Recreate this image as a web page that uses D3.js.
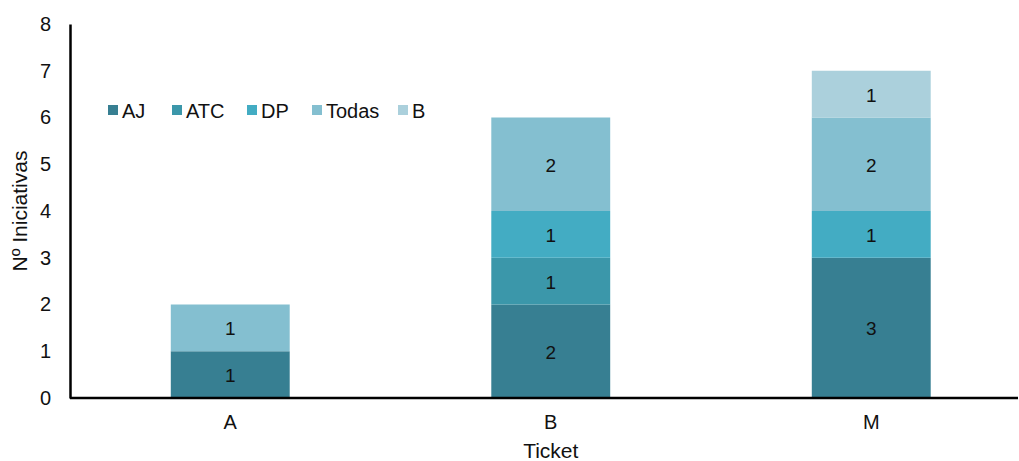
<!DOCTYPE html>
<html>
<head>
<meta charset="utf-8">
<script src="https://cdn.jsdelivr.net/npm/d3@7"></script>
<style>
  body { margin: 0; background: #fff; }
  text { font-family: "Liberation Sans", Arial, sans-serif; }
</style>
</head>
<body>
<div id="chart"></div>
<script>
const tickets = ["A", "B", "M"];
const seriesNames = ["AJ", "ATC", "DP", "Todas", "B"];
const seriesColors = ["#377f92", "#3b97aa", "#43acc3", "#84bfd0", "#abd0dc"];
const valuesAJ = [1, 2, 3];
const valuesATC = [0, 1, 0];
const valuesDP = [0, 1, 1];
const valuesTodas = [1, 2, 2];
const valuesB = [0, 0, 1];
const yTicks = [0, 1, 2, 3, 4, 5, 6, 7, 8];

const width = 1019, height = 461;
const margin = { top: 24, right: 0, bottom: 63, left: 70 };

const rows = tickets.map((t, i) => ({
  ticket: t,
  AJ: valuesAJ[i], ATC: valuesATC[i], DP: valuesDP[i], Todas: valuesTodas[i], B: valuesB[i]
}));

const svg = d3.select('#chart').append('svg')
  .attr('width', width)
  .attr('height', height);

const x = d3.scaleBand()
  .domain(tickets)
  .range([margin.left, margin.left + 3 * 320.5])
  .paddingInner(0.629)
  .paddingOuter(0.3145);

const y = d3.scaleLinear()
  .domain([0, 8])
  .range([height - margin.bottom, margin.top]);

const color = d3.scaleOrdinal().domain(seriesNames).range(seriesColors);

const stacked = d3.stack().keys(seriesNames)(rows);

const layers = svg.selectAll('.layer')
  .data(stacked)
  .enter().append('g')
  .attr('class', 'layer')
  .attr('fill', d => color(d.key));

layers.selectAll('rect')
  .data(d => d.filter(s => s[1] - s[0] > 0))
  .enter().append('rect')
  .attr('x', d => x(d.data.ticket))
  .attr('y', d => y(d[1]))
  .attr('width', x.bandwidth())
  .attr('height', d => y(d[0]) - y(d[1]));

layers.selectAll('text')
  .data(d => d.filter(s => s[1] - s[0] > 0))
  .enter().append('text')
  .attr('x', d => x(d.data.ticket) + x.bandwidth() / 2)
  .attr('y', d => (y(d[0]) + y(d[1])) / 2 + 1)
  .attr('text-anchor', 'middle')
  .attr('dominant-baseline', 'central')
  .attr('fill', '#111')
  .style('font-size', '19px')
  .text(d => d[1] - d[0]);

// axes
const yAxis = svg.append('g')
  .attr('transform', `translate(${margin.left},0)`)
  .call(d3.axisLeft(y).tickValues(yTicks).tickSize(0).tickPadding(19));
yAxis.select('.domain').attr('stroke', '#000').attr('stroke-width', 2.5);
yAxis.selectAll('text').style('font-size', '20px').attr('fill', '#111');

const xAxis = svg.append('g')
  .attr('transform', `translate(0,${y(0)})`)
  .call(d3.axisBottom(x).tickSize(0).tickPadding(17));
xAxis.select('.domain').attr('d', `M${margin.left},0H${width - 1}`)
  .attr('stroke', '#000').attr('stroke-width', 2.5);
xAxis.selectAll('text').style('font-size', '20px').attr('fill', '#111');

svg.append('text')
  .attr('transform', `translate(19,${(y(0) + y(8)) / 2}) rotate(-90)`)
  .attr('text-anchor', 'middle')
  .attr('dominant-baseline', 'central')
  .style('font-size', '21px')
  .attr('fill', '#111')
  .text('Nº Iniciativas');

svg.append('text')
  .attr('x', x('B') + x.bandwidth() / 2)
  .attr('y', 450)
  .attr('text-anchor', 'middle')
  .attr('dominant-baseline', 'central')
  .style('font-size', '21px')
  .attr('fill', '#111')
  .text('Ticket');

// legend
const legendX = [108, 172, 247, 312, 398];
const legend = svg.append('g').attr('class', 'legend');
const items = legend.selectAll('g')
  .data(seriesNames)
  .enter().append('g')
  .attr('transform', (d, i) => `translate(${legendX[i]},110)`);
items.append('rect')
  .attr('x', 0).attr('y', -5)
  .attr('width', 10).attr('height', 10)
  .attr('fill', d => color(d));
items.append('text')
  .attr('x', 14)
  .attr('y', 1)
  .attr('dominant-baseline', 'central')
  .style('font-size', '20px')
  .attr('fill', '#111')
  .text(d => d);
</script>
</body>
</html>
